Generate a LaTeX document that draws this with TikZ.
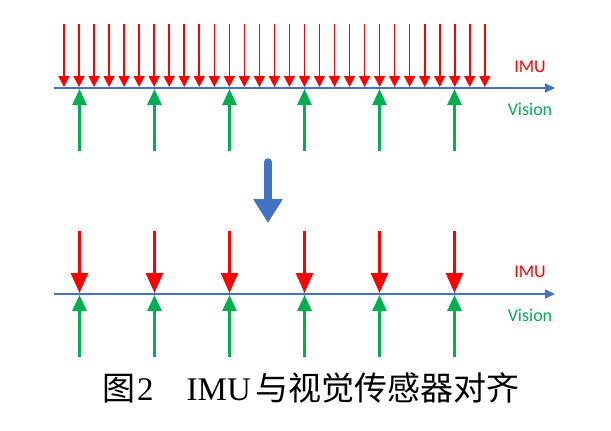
\documentclass[tikz,border=0pt]{standalone}
\usepackage{fontspec}
\setmainfont{Liberation Serif}
\newfontfamily\cjk{Noto Sans CJK SC}
\newfontfamily\lab{Carlito}
\usetikzlibrary{arrows.meta}
\definecolor{ired}{HTML}{FF0000}
\definecolor{vgreen}{HTML}{00B050}
\definecolor{axblue}{HTML}{4472C4}
\tikzset{
  imuthin/.style={draw=ired,line width=1.6pt,-{Triangle[length=11pt,width=11pt]}},
  imuthick/.style={draw=ired,line width=2.8pt,-{Triangle[length=20pt,width=17pt]}},
  visarrow/.style={draw=vgreen,line width=2.8pt,-{Triangle[length=16pt,width=14pt]}},
  axis/.style={draw=axblue,line width=1.5pt,-{Triangle[length=10pt,width=9pt]}},
  imulab/.style={text=ired,font=\lab\fontsize{18}{18}\selectfont},
  vislab/.style={text=vgreen,font=\lab\fontsize{18}{18}\selectfont},
}
\begin{document}
\begin{tikzpicture}[x=1pt,y=-1pt]
\useasboundingbox (0,0) rectangle (611,431);
% top axis
\coordinate (a1s) at (54,88);
\coordinate (a1e) at (555,88);
\draw[axis] (a1s) -- (a1e);
\foreach \i in {0,...,28}{
  \coordinate (rt\i) at ({64+15.03*\i},24);
  \coordinate (rb\i) at ({64+15.03*\i},87);
  \draw[imuthin] (rt\i) -- (rb\i);
}
\foreach \i in {0,...,5}{
  \coordinate (gb\i) at ({79.5+75*\i},151);
  \coordinate (gt\i) at ({79.5+75*\i},89);
  \draw[visarrow] (gb\i) -- (gt\i);
}
\node[imulab] (imu1) at (530,67) {IMU};
\node[vislab] (vis1) at (530,109) {Vision};
% blue down arrow
\coordinate (ba) at (268,162);
\coordinate (bb) at (268,223);
\draw[draw=axblue,line width=7.5pt,line cap=round,-{Triangle[length=24pt,width=28pt]}] (ba) -- (bb);
% bottom axis
\coordinate (a2s) at (54,294);
\coordinate (a2e) at (555,294);
\draw[axis] (a2s) -- (a2e);
\foreach \i in {0,...,5}{
  \coordinate (r2t\i) at ({79.5+75*\i},231);
  \coordinate (r2b\i) at ({79.5+75*\i},293);
  \draw[imuthick] (r2t\i) -- (r2b\i);
  \coordinate (g2b\i) at ({79.5+75*\i},357);
  \coordinate (g2t\i) at ({79.5+75*\i},295);
  \draw[visarrow] (g2b\i) -- (g2t\i);
}
\node[imulab] (imu2) at (530,272) {IMU};
\node[vislab] (vis2) at (530,315) {Vision};
% caption
\node[anchor=base west,inner sep=0pt,font=\fontsize{33}{33}\selectfont] (cap) at (102,400)
  {{\cjk 图}\hspace{2pt}2\hspace{33pt}IMU\hspace{5pt}{\cjk 与视觉传感器对齐}};
\end{tikzpicture}
\end{document}
